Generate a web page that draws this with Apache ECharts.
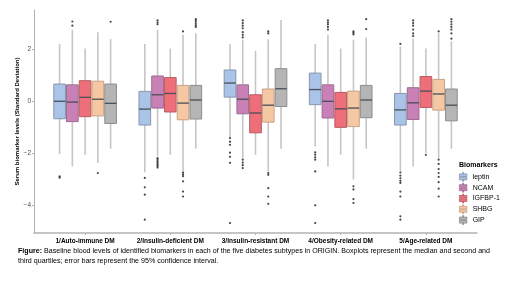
<!DOCTYPE html>
<html>
<head>
<meta charset="utf-8">
<script src="https://cdn.jsdelivr.net/npm/echarts@6/dist/echarts.min.js"></script>
<style>
  html, body { margin: 0; padding: 0; background: #ffffff; }
  #boxChart { width: 520px; height: 281px; }
</style>
</head>
<body>
<div id="boxChart"></div>
<script>
// diabetes subtypes (x categories)
var subtypes = ['1/Auto-immune DM', '2/Insulin-deficient DM', '3/Insulin-resistant DM', '4/Obesity-related DM', '5/Age-related DM'];
var markers = ['leptin', 'NCAM', 'IGFBP-1', 'SHBG', 'GIP'];
var yTicks = [-4, -2, 0, 2];

// per subtype: [lower whisker, Q1, median, Q3, upper whisker]
var leptinBox = [[-2.02, -0.67, 0.0, 0.66, 2.2], [-2.72, -0.91, -0.3, 0.38, 2.2], [-1.37, 0.16, 0.7, 1.2, 2.2], [-1.73, -0.13, 0.45, 1.08, 2.2], [-2.69, -0.91, -0.33, 0.3, 2.1]];
var ncamBox = [[-2.5, -0.78, -0.03, 0.63, 2.74], [-2.11, -0.26, 0.25, 0.97, 2.74], [-2.18, -0.48, 0.08, 0.63, 2.36], [-2.5, -0.64, 0.0, 0.63, 2.55], [-2.5, -0.7, -0.06, 0.52, 2.4]];
var igfbpBox = [[-2.05, -0.59, 0.15, 0.79, 2.02], [-2.05, -0.41, 0.3, 0.91, 2.02], [-2.05, -1.21, -0.45, 0.25, 1.93], [-2.05, -1.0, -0.29, 0.34, 2.02], [-2.0, -0.24, 0.39, 0.95, 2.02]];
var shbgBox = [[-2.37, -0.56, 0.08, 0.77, 2.65], [-2.69, -0.71, -0.07, 0.61, 2.55], [-2.69, -0.8, -0.15, 0.47, 2.38], [-3.0, -0.97, -0.26, 0.39, 2.36], [-2.18, -0.34, 0.28, 0.84, 2.61]];
var gipBox = [[-1.82, -0.85, -0.08, 0.66, 2.38], [-1.82, -0.68, 0.05, 0.61, 2.61], [-1.82, -0.2, 0.48, 1.25, 3.12], [-1.82, -0.63, 0.05, 0.61, 2.45], [-1.82, -0.75, -0.15, 0.47, 2.3]];

// outliers, one list per subtype
var leptinOut = [[-2.88, -2.93], [-2.94, -3.3, -3.58, -4.54], [-1.41, -1.55, -1.67, -1.97, -2.13, -2.36, -4.67], [-1.96, -2.05, -2.15, -2.24, -2.69, -3.99, -4.67], [2.2, -2.73, -2.85, -2.95, -3.05, -3.13, -3.46, -3.65, -4.41, -4.54]];
var ncamOut = [[3.06, 2.9], [3.1, 3.02, 2.95, -2.18, -2.24, -2.3, -2.36, -2.42, -2.48, -2.54], [3.1, 3.0, 2.9, 2.8, 2.65, 2.55, 2.45, -2.24, -2.35, -2.45, -2.56], [3.1, 3.02, 2.95, 2.85, 2.75], [3.1, 3.0, 2.9, 2.75, 2.6, 2.5]];
var igfbpOut = [[], [], [], [], [-2.06]];
var shbgOut = [[-2.75], [2.68, -2.73, -2.8, -2.87, -3.07, -3.46, -3.65], [2.68, 2.6, -2.75, -2.82, -3.33, -3.65, -3.93], [2.68, 2.62, 2.56, -3.26, -3.38, -3.75, -3.9], [2.68, -2.24, -2.4, -2.6, -2.75, -2.9, -3.1, -3.35, -3.65]];
var gipOut = [[3.05], [3.15, 3.08, 3.0, 2.92, 2.85], [], [3.15, 2.77], [3.15, 3.05, 2.95, 2.85, 2.75, 2.6, 2.4]];

var boxes = [leptinBox, ncamBox, igfbpBox, shbgBox, gipBox];
var outliers = [leptinOut, ncamOut, igfbpOut, shbgOut, gipOut];
var fills = ['#a9c4e6', '#c980b6', '#ee6f79', '#f5c7a3', '#b5b5b5'];
var borders = ['#8796ad', '#9c6b90', '#b85d64', '#c8a287', '#8d8d8d'];
var FONT = 'Liberation Sans, Arial, sans-serif';

var BOX_STEP = 0.1497;  // offset between neighbouring boxes, in x units
var BOX_W = 0.137;

function boxRenderer(k) {
  return function (params, api) {
    var x = api.value(0) + (k - 2) * BOX_STEP;
    var lo = api.coord([x, api.value(1)]);
    var q1 = api.coord([x, api.value(2)]);
    var md = api.coord([x, api.value(3)]);
    var q3 = api.coord([x, api.value(4)]);
    var hi = api.coord([x, api.value(5)]);
    var w = api.size([BOX_W, 0])[0];
    return {
      type: 'group',
      children: [
        { type: 'line', shape: { x1: lo[0], y1: lo[1], x2: hi[0], y2: hi[1] }, style: { stroke: '#c6c6c6', lineWidth: 1.6 } },
        { type: 'rect', shape: { x: q3[0] - w / 2, y: q3[1], width: w, height: q1[1] - q3[1] }, style: { fill: fills[k], stroke: borders[k], lineWidth: 1 } },
        { type: 'line', shape: { x1: md[0] - w / 2, y1: md[1], x2: md[0] + w / 2, y2: md[1] }, style: { stroke: '#4a4f59', lineWidth: 1.3 } }
      ]
    };
  };
}

var series = [];
markers.forEach(function (name, k) {
  series.push({
    name: name,
    type: 'custom',
    renderItem: boxRenderer(k),
    itemStyle: { color: fills[k] },
    encode: { x: 0, y: [1, 2, 3, 4, 5] },
    data: boxes[k].map(function (b, g) { return [g + 1].concat(b); }),
    z: 2
  });
});

var outlierPts = [];
outliers.forEach(function (list, k) {
  list.forEach(function (vals, g) {
    vals.forEach(function (v) { outlierPts.push([g + 1 + (k - 2) * BOX_STEP, v]); });
  });
});
series.push({
  type: 'scatter',
  symbolSize: 2.2,
  itemStyle: { color: '#1a1a1a' },
  data: outlierPts,
  silent: true,
  z: 3
});

var legendIcon = 'path://M4.4,0h1.2v2h-1.2z M0,2h10v3.5h-10z M0,6.5h10v3.5h-10z M4.4,10h1.2v2h-1.2z';

var chart = echarts.init(document.getElementById('boxChart'), null, { renderer: 'canvas' });
chart.setOption({
  backgroundColor: '#ffffff',
  animation: false,
  textStyle: { fontFamily: FONT },
  title: {
    text: 'Biomarkers',
    left: 459, top: 162, padding: 0,
    textStyle: { fontSize: 7, fontWeight: 'bold', color: '#000' }
  },
  legend: {
    orient: 'vertical',
    left: 459, top: 172, padding: 0,
    itemWidth: 9, itemHeight: 9, itemGap: 1,
    icon: legendIcon,
    textStyle: { fontSize: 7, color: '#000' },
    data: markers.map(function (m, k) {
      return { name: m, itemStyle: { color: fills[k], borderColor: borders[k], borderWidth: 0.8 } };
    })
  },
  grid: { left: 34, right: 43, top: 10, bottom: 48, containLabel: false },
  xAxis: {
    type: 'value',
    min: 0.4, max: 5.6,
    axisLine: { onZero: false, lineStyle: { color: '#b3b3b3', width: 1.5 } },
    axisTick: { customValues: [1, 2, 3, 4, 5], length: 2, lineStyle: { color: '#b3b3b3' } },
    axisLabel: {
      customValues: [1, 2, 3, 4, 5],
      formatter: function (v) { return subtypes[Math.round(v) - 1]; },
      fontSize: 6.5, fontWeight: 'bold', color: '#000', margin: 5
    },
    splitLine: { show: false }
  },
  yAxis: {
    type: 'value',
    min: -5.05, max: 3.5,
    name: 'Serum biomarker levels (Standard Deviation)',
    nameLocation: 'middle',
    nameGap: 14,
    nameMoveOverlap: false,
    nameTextStyle: { fontSize: 6, fontWeight: 'bold', color: '#000' },
    axisLine: { show: true, onZero: false, lineStyle: { color: '#b3b3b3', width: 1 } },
    axisTick: { show: true, customValues: yTicks, length: 2, lineStyle: { color: '#b3b3b3' } },
    axisLabel: {
      customValues: yTicks,
      formatter: function (v) { return String(v).replace('-', '\u2212'); },
      fontSize: 6.5, color: '#4d4d4d', margin: 3
    },
    splitLine: { show: false }
  },
  graphic: [
    {
      type: 'text', left: 18, top: 248,
      style: {
        text: '{b|Figure:} Baseline blood levels of identified biomarkers in each of the five diabetes subtypes in ORIGIN. Boxplots represent the median and second and',
        rich: { b: { fontWeight: 'bold', fontSize: 7.1, fontFamily: FONT } },
        fontSize: 7.1, fontFamily: FONT, fill: '#000'
      }
    },
    {
      type: 'text', left: 18, top: 258,
      style: {
        text: 'third quartiles; error bars represent the 95% confidence interval.',
        fontSize: 7.1, fontFamily: FONT, fill: '#000'
      }
    }
  ],
  series: series
});
</script>
</body>
</html>
